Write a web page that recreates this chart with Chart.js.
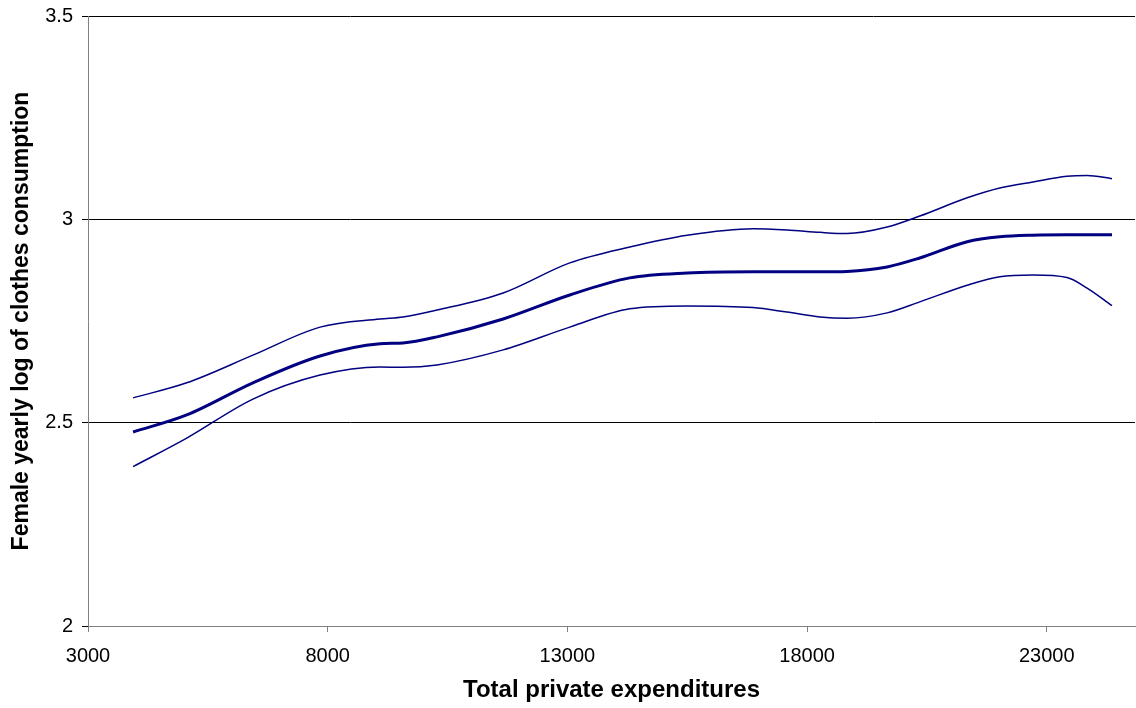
<!DOCTYPE html>
<html>
<head>
<meta charset="utf-8">
<script src="https://cdn.jsdelivr.net/npm/chart.js@4"></script>
<style>
  html, body { margin: 0; padding: 0; background: #fff; }
  #wrap { width: 1136px; height: 708px; }
</style>
</head>
<body>
<div id="wrap"><canvas id="chart" width="1136" height="708"></canvas></div>
<script>
/* ---- Данные: расходы и логарифм потребления одежды ---- */
const EXPEND = [3940, 5060, 6440, 7840, 9090, 9570, 10280, 11660, 13050, 14300, 15500,
                16870, 17580, 18270, 18830, 19670, 20350, 21340, 22020, 22710, 23420, 23840, 24360];

// оценка (толстая линия)
const FIT   = [2.477, 2.519, 2.598, 2.664, 2.694, 2.696, 2.711, 2.755, 2.814, 2.856, 2.868,
               2.871, 2.871, 2.871, 2.872, 2.883, 2.905, 2.945, 2.957, 2.961, 2.962, 2.962, 2.962];
// верхняя граница
const UPPER = [2.561, 2.598, 2.666, 2.735, 2.755, 2.760, 2.777, 2.819, 2.893, 2.932, 2.961,
               2.977, 2.974, 2.968, 2.965, 2.981, 3.008, 3.053, 3.077, 3.092, 3.106, 3.108, 3.100];
// нижняя граница
const LOWER = [2.392, 2.462, 2.558, 2.617, 2.637, 2.636, 2.642, 2.679, 2.735, 2.780, 2.787,
               2.783, 2.772, 2.760, 2.757, 2.770, 2.797, 2.838, 2.859, 2.863, 2.857, 2.831, 2.788];

const X_TICKS = [3000, 8000, 13000, 18000, 23000];
const Y_TICKS = [2, 2.5, 3, 3.5];
const X_MIN = 3000, X_MAX = 24840;
const Y_MIN = 2, Y_MAX = 3.5;

const NAVY = "#000080";

function pts(ys) { return EXPEND.map((x, i) => ({ x, y: ys[i] })); }

function line(ys, width) {
  return {
    data: pts(ys),
    borderColor: NAVY,
    borderWidth: width,
    pointRadius: 0,
    fill: false,
    cubicInterpolationMode: "monotone"
  };
}

const FONT = "Arial, 'Liberation Sans', sans-serif";

new Chart(document.getElementById("chart"), {
  type: "line",
  data: { datasets: [line(UPPER, 1.5), line(LOWER, 1.5), line(FIT, 3)] },
  options: {
    responsive: false,
    animation: false,
    layout: { padding: { top: 16, right: 1, left: 0, bottom: 0 } },
    plugins: { legend: { display: false }, tooltip: { enabled: false } },
    scales: {
      x: {
        type: "linear",
        min: X_MIN, max: X_MAX,
        afterBuildTicks: s => { s.ticks = X_TICKS.map(v => ({ value: v })); },
        afterFit: s => { s.height = 82; },
        grid: { drawOnChartArea: false, color: "#808080", tickLength: 6 },
        border: { color: "#808080" },
        ticks: { color: "#000", font: { family: FONT, size: 20 }, padding: 12, maxRotation: 0,
                 callback: v => String(v) },
        title: {
          display: true, text: "Total private expenditures", color: "#000",
          font: { family: FONT, size: 24, weight: "bold" }, padding: { top: 0, bottom: 3 }
        }
      },
      y: {
        min: Y_MIN, max: Y_MAX,
        afterBuildTicks: s => { s.ticks = Y_TICKS.map(v => ({ value: v })); },
        // ширина оси фиксирована, отступы от подписей не нужны
        afterFit: s => { s.width = 88; s.paddingTop = 0; s.paddingBottom = 0; },
        grid: { color: "#000", tickLength: 6 },
        border: { color: "#808080" },
        ticks: { color: "#000", font: { family: FONT, size: 20 }, padding: 9, callback: v => String(v) },
        title: {
          display: true, text: "Female yearly log of clothes consumption", color: "#000",
          font: { family: FONT, size: 23, weight: "bold" }, padding: { top: 8, bottom: 0 }
        }
      }
    }
  }
});
</script>
</body>
</html>
